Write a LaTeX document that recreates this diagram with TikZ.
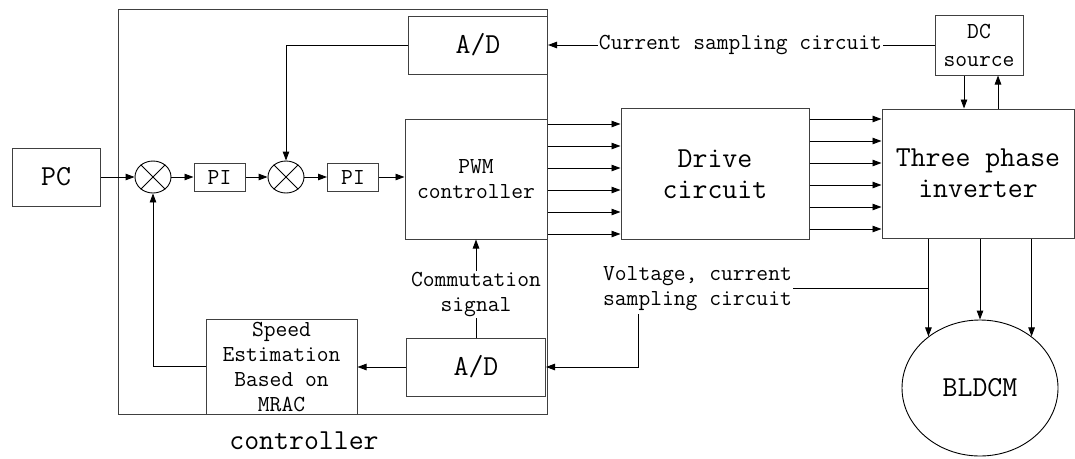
\documentclass[tikz,border=0pt]{standalone}
\usepackage{fontspec}
\usetikzlibrary{positioning,arrows.meta,calc,shapes.geometric}
\newcommand{\bigtxt}{\ttfamily\fontsize{29}{31}\selectfont}
\newcommand{\smalltxt}{\ttfamily\fontsize{22.9}{25}\selectfont}
\tikzset{
  flowarrow/.style={-{Triangle[length=9pt,width=6.5pt]}, line width=0.9pt},
  plainline/.style={line width=0.9pt},
  framebox/.style={draw=black!75, line width=1pt},
  blockbox/.style={draw=black!75, line width=1pt, inner sep=0pt, align=center},
  pibox/.style={blockbox, font=\smalltxt, minimum width=51, minimum height=28},
  adbox/.style={blockbox, font=\bigtxt, minimum width=139, minimum height=58},
  sumnode/.style={draw, ellipse, line width=0.9pt, inner sep=0pt, minimum width=36, minimum height=32},
  motor/.style={draw, ellipse, line width=0.9pt, inner sep=0pt, font=\bigtxt, minimum width=156, minimum height=136},
  textlabel/.style={inner sep=1pt, align=center, font=\smalltxt}
}
\begin{document}
\begin{tikzpicture}[x=1pt, y=-1pt]
  \useasboundingbox (0,0) rectangle (1075,458);
  \draw[framebox] (118,9) rectangle (547,414);
  \node[blockbox, font=\bigtxt, minimum width=88, minimum height=58] (pc) at (56,177) {PC};
  \node[sumnode] (sum1) at (153,177) {};
  \node[pibox] (pi1) at (219.5,177) {PI};
  \node[sumnode] (sum2) at (286,177) {};
  \node[pibox] (pi2) at (353,177) {PI};
  \node[blockbox, font=\smalltxt, minimum width=142, minimum height=120] (pwm) at (476,179) {PWM\\controller};
  \node[adbox] (adtop) at (478,45) {A/D};
  \node[adbox] (adbot) at (476,367) {A/D};
  \node[blockbox, font=\smalltxt, minimum width=151, minimum height=95] (est) at (281.5,366.5) {Speed\\Estimation\\Based on\\MRAC};
  \node[textlabel] (comm) at (476,294.5) {Commutation\\signal};
  \node[textlabel, font=\bigtxt] (ctrllbl) at (304,441) {controller};
  \node[blockbox, font=\bigtxt, minimum width=188, minimum height=131] (drive) at (715,174) {Drive\\circuit};
  \node[blockbox, font=\bigtxt, minimum width=192, minimum height=129] (inv) at (978,173.5) {Three phase\\inverter};
  \node[blockbox, font={\ttfamily\fontsize{22.9}{28}\selectfont}, minimum width=88, minimum height=60] (dc) at (979,45) {DC\\source};
  \node[textlabel] (csamp) at (740.5,45) {Current sampling circuit};
  \node[textlabel] (vsamp) at (697.5,288.5) {Voltage, current\\sampling circuit};
  \node[motor] (bldcm) at (980,388) {BLDCM};
  \coordinate (vtap) at (638,314);
  \foreach \s in {sum1,sum2}
    \draw[line width=0.8pt] (\s.45) -- (\s.-135) (\s.135) -- (\s.-45);
  \draw[flowarrow] (pc) -- (sum1);
  \draw[flowarrow] (sum1) -- (pi1);
  \draw[flowarrow] (pi1) -- (sum2);
  \draw[flowarrow] (sum2) -- (pi2);
  \draw[flowarrow] (pi2.east) -- (pi2.east -| pwm.west);
  \draw[flowarrow] (adtop.west) -| (sum2.north);
  \draw[flowarrow] (est.west) -| (sum1.south);
  \draw[flowarrow] (adbot.west) -- (adbot.west -| est.east);
  \draw[plainline] (adbot.north) -- (comm.south);
  \draw[flowarrow] (comm.north) -- (pwm.south);
  \draw[flowarrow] (csamp.west) -- (adtop.east);
  \draw[plainline] (dc.west) -- (csamp.east);
  \draw[flowarrow] ([xshift=-15]dc.south) -- ([xshift=-15]dc.south |- inv.north);
  \draw[flowarrow] ([xshift=19]dc.south |- inv.north) -- ([xshift=19]dc.south);
  \foreach \dy in {-55,-33,...,55} {
    \draw[flowarrow] ([yshift=\dy]pwm.east) -- ([yshift=\dy]pwm.east -| drive.west);
    \draw[flowarrow] ([yshift=\dy]drive.east) -- ([yshift=\dy]drive.east -| inv.west);
  }
  \draw[flowarrow] (inv.south -| bldcm.135) -- (bldcm.135);
  \draw[flowarrow] (inv.south -| bldcm.north) -- (bldcm.north);
  \draw[flowarrow] (inv.south -| bldcm.45) -- (bldcm.45);
  \draw[plainline] (vsamp.east) -- (vsamp.east -| bldcm.135);
  \draw[flowarrow] (vtap) |- (adbot.east);
\end{tikzpicture}
\end{document}
